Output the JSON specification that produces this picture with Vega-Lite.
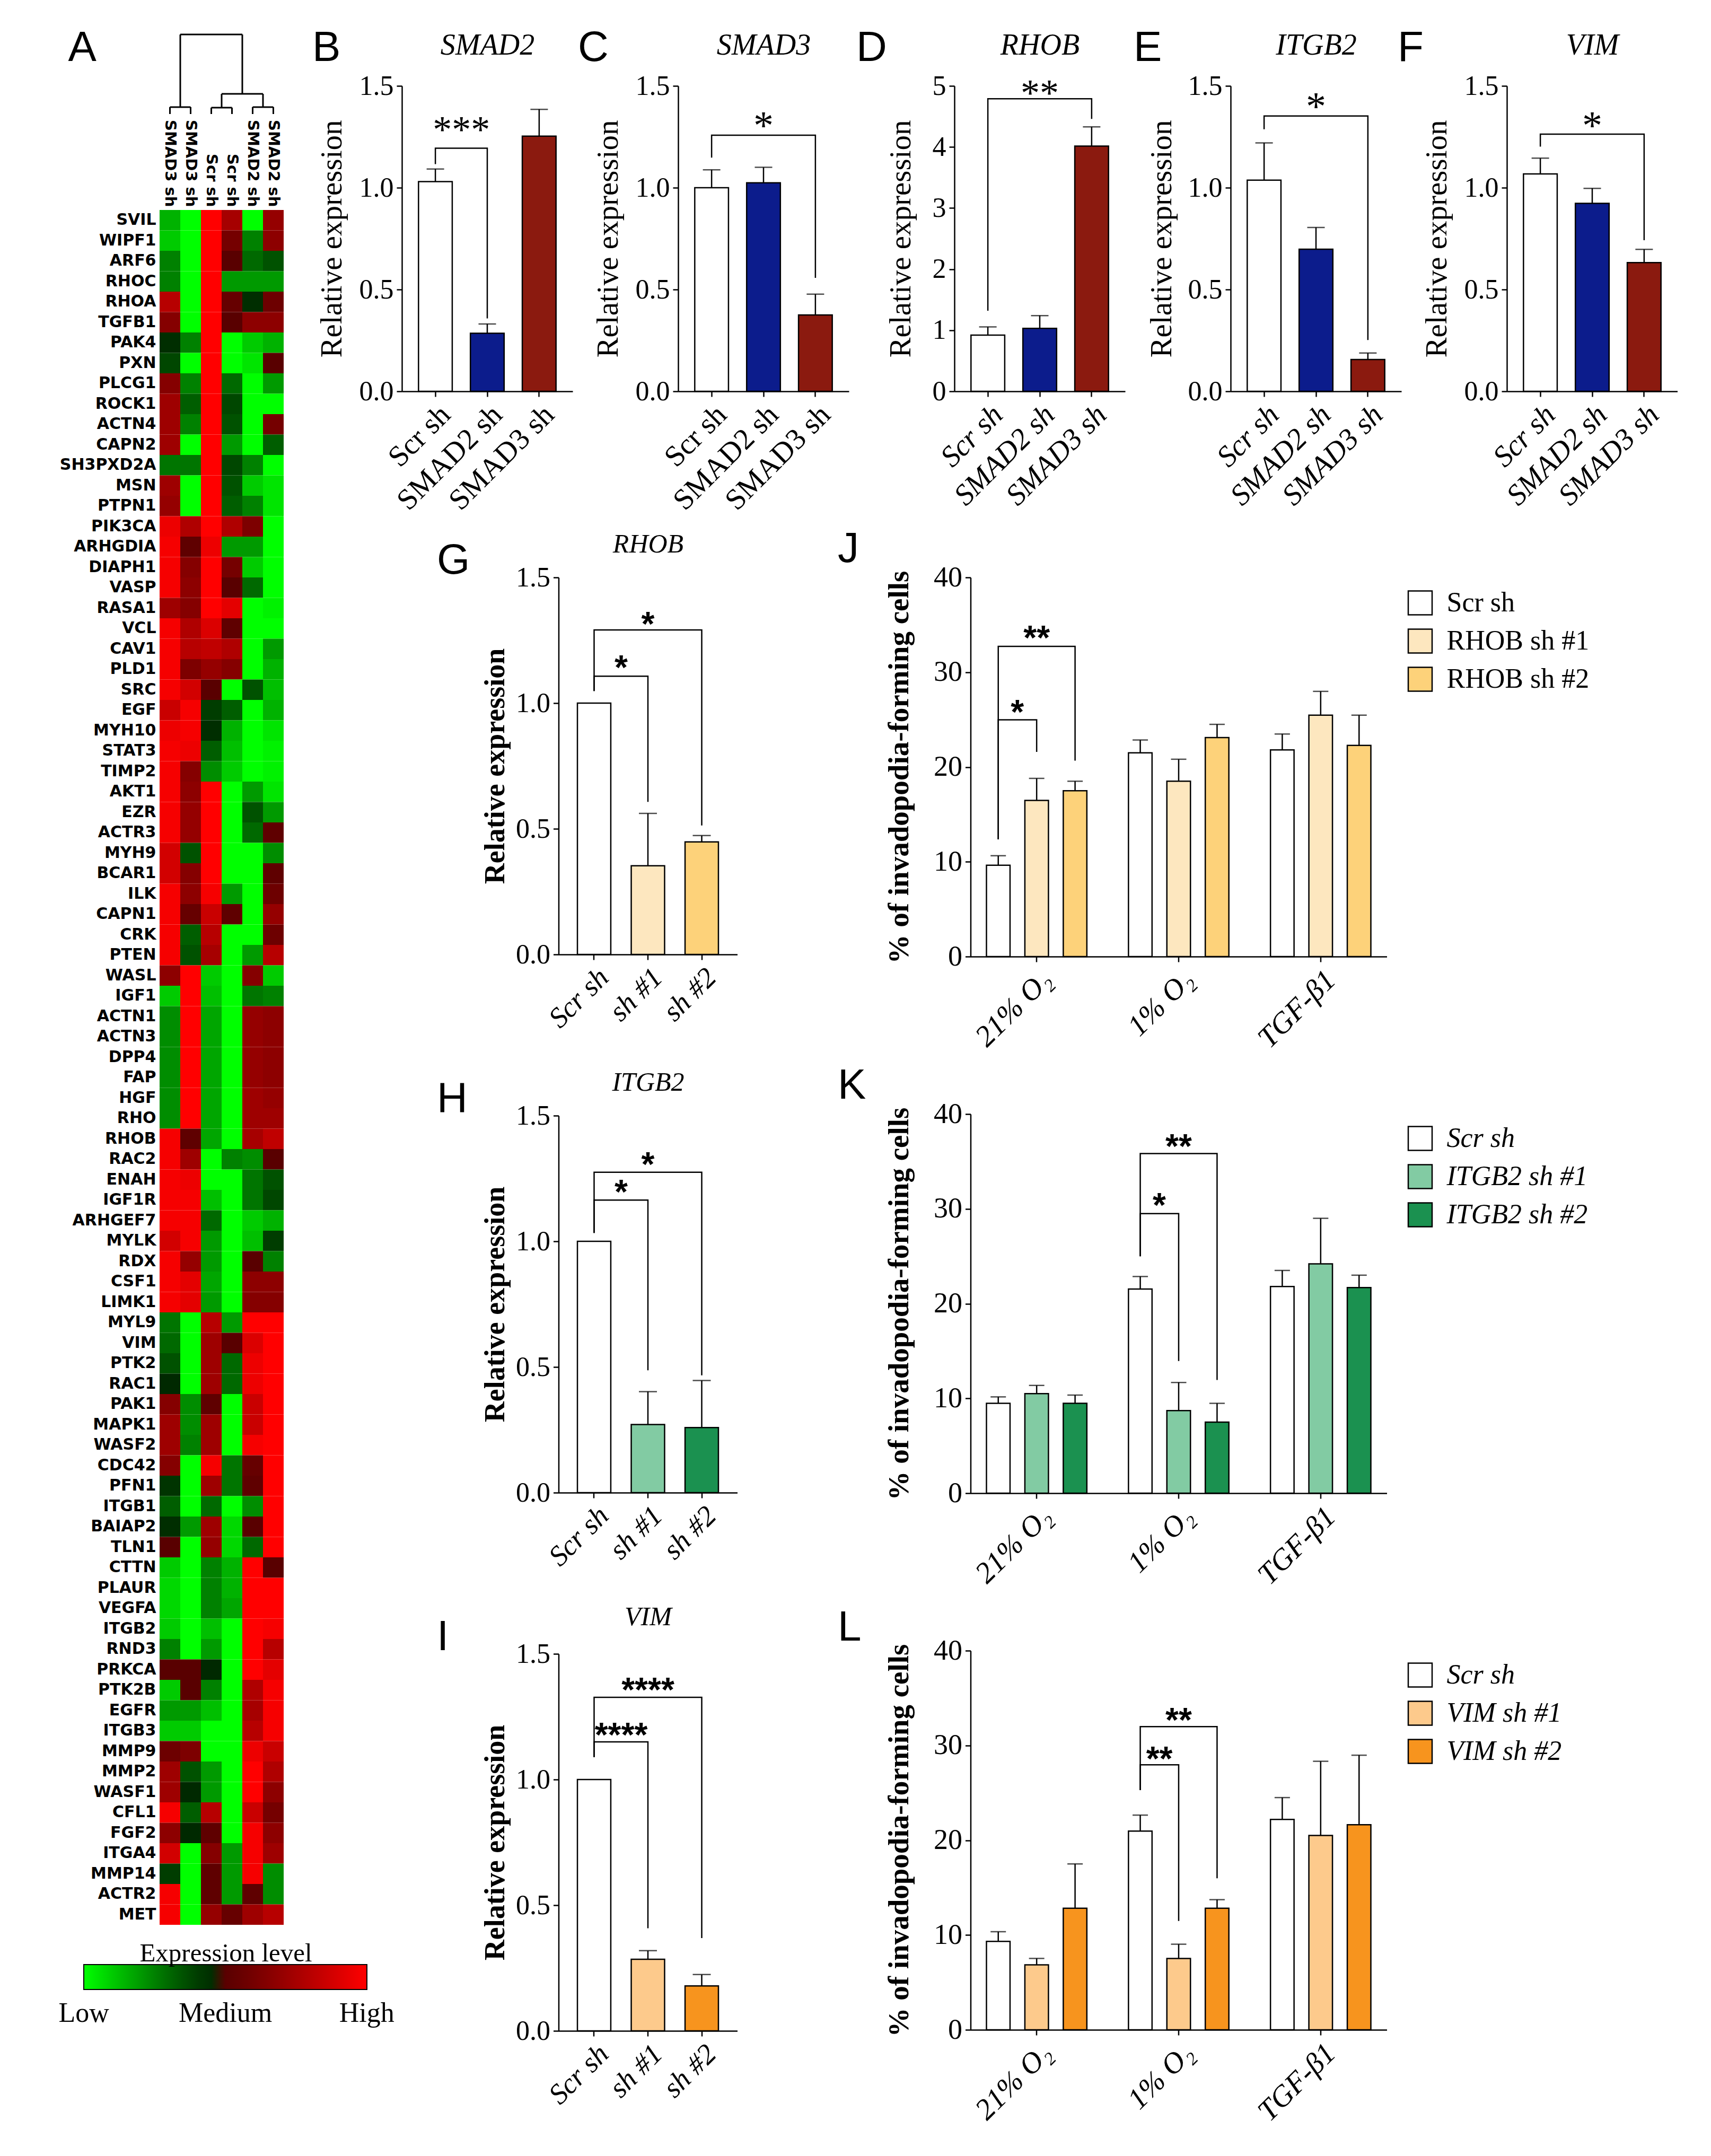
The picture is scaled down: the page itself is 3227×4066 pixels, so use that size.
{
"$schema": "https://vega.github.io/schema/vega-lite/v6.json",
"background": "white",
"padding": {"left": 112, "top": 50, "right": 0, "bottom": 0},
"config": {
  "view": {"stroke": null},
  "axis": {"labelFont": "Liberation Serif", "titleFont": "Liberation Serif", "labelColor": "#000", "titleColor": "#000", "domainColor": "#000", "tickColor": "#000", "domainWidth": 2.5, "tickWidth": 2.5, "tickSize": 10, "labelPadding": 6, "grid": false, "labelLimit": 1000, "titleLimit": 3000, "labelFontSize": 52, "titleFontSize": 56, "titleFontWeight": "normal"},
  "legend": {"labelLimit": 1000, "titleLimit": 2000}
},
"datasets": {
"dendro": [
 {"l":0.5,"r":1.5,"h":0.087,"lh":0,"rh":0},
 {"l":2.5,"r":3.5,"h":0.08,"lh":0,"rh":0},
 {"l":4.5,"r":5.5,"h":0.087,"lh":0,"rh":0},
 {"l":3,"r":5,"h":0.253,"lh":0.08,"rh":0.087},
 {"l":1,"r":4,"h":1,"lh":0.087,"rh":0.253}
],
"bars": [
 {"p":"B","c":"Scr sh","m":1.03,"h":1.092},{"p":"B","c":"SMAD2 sh","m":0.285,"h":0.331},{"p":"B","c":"SMAD3 sh","m":1.253,"h":1.385},
 {"p":"C","c":"Scr sh","m":1.0,"h":1.088},{"p":"C","c":"SMAD2 sh","m":1.024,"h":1.1},{"p":"C","c":"SMAD3 sh","m":0.375,"h":0.477},
 {"p":"D","c":"Scr sh","m":0.92,"h":1.055},{"p":"D","c":"SMAD2 sh","m":1.03,"h":1.24},{"p":"D","c":"SMAD3 sh","m":4.015,"h":4.33},
 {"p":"E","c":"Scr sh","m":1.037,"h":1.22},{"p":"E","c":"SMAD2 sh","m":0.698,"h":0.805},{"p":"E","c":"SMAD3 sh","m":0.156,"h":0.188},
 {"p":"F","c":"Scr sh","m":1.068,"h":1.145},{"p":"F","c":"SMAD2 sh","m":0.923,"h":0.997},{"p":"F","c":"SMAD3 sh","m":0.632,"h":0.697},
 {"p":"G","c":"Scr sh","m":1.0,"h":null},{"p":"G","c":"sh #1","m":0.353,"h":0.561},{"p":"G","c":"sh #2","m":0.448,"h":0.473},
 {"p":"H","c":"Scr sh","m":1.0,"h":null},{"p":"H","c":"sh #1","m":0.271,"h":0.402},{"p":"H","c":"sh #2","m":0.259,"h":0.446},
 {"p":"I","c":"Scr sh","m":1.0,"h":null},{"p":"I","c":"sh #1","m":0.285,"h":0.319},{"p":"I","c":"sh #2","m":0.179,"h":0.224},
 {"p":"J","g":"21% O₂","c":"Scr sh","m":9.63,"h":10.64},{"p":"J","g":"21% O₂","c":"RHOB sh #1","m":16.48,"h":18.8},{"p":"J","g":"21% O₂","c":"RHOB sh #2","m":17.49,"h":18.5},
 {"p":"J","g":"1% O₂","c":"Scr sh","m":21.5,"h":22.85},{"p":"J","g":"1% O₂","c":"RHOB sh #1","m":18.5,"h":20.82},{"p":"J","g":"1% O₂","c":"RHOB sh #2","m":23.1,"h":24.5},
 {"p":"J","g":"TGF-β1","c":"Scr sh","m":21.8,"h":23.48},{"p":"J","g":"TGF-β1","c":"RHOB sh #1","m":25.47,"h":27.98},{"p":"J","g":"TGF-β1","c":"RHOB sh #2","m":22.28,"h":25.47},
 {"p":"K","g":"21% O₂","c":"Scr sh","m":9.48,"h":10.16},{"p":"K","g":"21% O₂","c":"ITGB2 sh #1","m":10.5,"h":11.37},{"p":"K","g":"21% O₂","c":"ITGB2 sh #2","m":9.48,"h":10.35},
 {"p":"K","g":"1% O₂","c":"Scr sh","m":21.54,"h":22.86},{"p":"K","g":"1% O₂","c":"ITGB2 sh #1","m":8.72,"h":11.68},{"p":"K","g":"1% O₂","c":"ITGB2 sh #2","m":7.5,"h":9.48},
 {"p":"K","g":"TGF-β1","c":"Scr sh","m":21.8,"h":23.5},{"p":"K","g":"TGF-β1","c":"ITGB2 sh #1","m":24.19,"h":29.0},{"p":"K","g":"TGF-β1","c":"ITGB2 sh #2","m":21.69,"h":23.0},
 {"p":"L","g":"21% O₂","c":"Scr sh","m":9.33,"h":10.35},{"p":"L","g":"21% O₂","c":"VIM sh #1","m":6.85,"h":7.53},{"p":"L","g":"21% O₂","c":"VIM sh #2","m":12.83,"h":17.5},
 {"p":"L","g":"1% O₂","c":"Scr sh","m":20.96,"h":22.65},{"p":"L","g":"1% O₂","c":"VIM sh #1","m":7.53,"h":9.03},{"p":"L","g":"1% O₂","c":"VIM sh #2","m":12.83,"h":13.73},
 {"p":"L","g":"TGF-β1","c":"Scr sh","m":22.2,"h":24.5},{"p":"L","g":"TGF-β1","c":"VIM sh #1","m":20.5,"h":28.33},{"p":"L","g":"TGF-β1","c":"VIM sh #2","m":21.64,"h":28.97}
],
"brk": [
 {"p":"B","b":1,"k":0,"c":"Scr sh","y":1.116},{"p":"B","b":1,"k":1,"c":"Scr sh","y":1.194},{"p":"B","b":1,"k":2,"c":"SMAD2 sh","y":1.194},{"p":"B","b":1,"k":3,"c":"SMAD2 sh","y":0.358},
 {"p":"C","b":1,"k":0,"c":"Scr sh","y":1.148},{"p":"C","b":1,"k":1,"c":"Scr sh","y":1.258},{"p":"C","b":1,"k":2,"c":"SMAD3 sh","y":1.258},{"p":"C","b":1,"k":3,"c":"SMAD3 sh","y":0.557},
 {"p":"D","b":1,"k":0,"c":"Scr sh","y":1.32},{"p":"D","b":1,"k":1,"c":"Scr sh","y":4.79},{"p":"D","b":1,"k":2,"c":"SMAD3 sh","y":4.79},{"p":"D","b":1,"k":3,"c":"SMAD3 sh","y":4.46},
 {"p":"E","b":1,"k":0,"c":"Scr sh","y":1.287},{"p":"E","b":1,"k":1,"c":"Scr sh","y":1.352},{"p":"E","b":1,"k":2,"c":"SMAD3 sh","y":1.352},{"p":"E","b":1,"k":3,"c":"SMAD3 sh","y":0.252},
 {"p":"F","b":1,"k":0,"c":"Scr sh","y":1.202},{"p":"F","b":1,"k":1,"c":"Scr sh","y":1.263},{"p":"F","b":1,"k":2,"c":"SMAD3 sh","y":1.263},{"p":"F","b":1,"k":3,"c":"SMAD3 sh","y":0.742},
 {"p":"G","b":1,"k":0,"c":"Scr sh","y":1.048},{"p":"G","b":1,"k":1,"c":"Scr sh","y":1.107},{"p":"G","b":1,"k":2,"c":"sh #1","y":1.107},{"p":"G","b":1,"k":3,"c":"sh #1","y":0.607},
 {"p":"G","b":2,"k":0,"c":"Scr sh","y":1.048},{"p":"G","b":2,"k":1,"c":"Scr sh","y":1.291},{"p":"G","b":2,"k":2,"c":"sh #2","y":1.291},{"p":"G","b":2,"k":3,"c":"sh #2","y":0.513},
 {"p":"H","b":1,"k":0,"c":"Scr sh","y":1.033},{"p":"H","b":1,"k":1,"c":"Scr sh","y":1.164},{"p":"H","b":1,"k":2,"c":"sh #1","y":1.164},{"p":"H","b":1,"k":3,"c":"sh #1","y":0.487},
 {"p":"H","b":2,"k":0,"c":"Scr sh","y":1.033},{"p":"H","b":2,"k":1,"c":"Scr sh","y":1.275},{"p":"H","b":2,"k":2,"c":"sh #2","y":1.275},{"p":"H","b":2,"k":3,"c":"sh #2","y":0.467},
 {"p":"I","b":1,"k":0,"c":"Scr sh","y":1.089},{"p":"I","b":1,"k":1,"c":"Scr sh","y":1.15},{"p":"I","b":1,"k":2,"c":"sh #1","y":1.15},{"p":"I","b":1,"k":3,"c":"sh #1","y":0.408},
 {"p":"I","b":2,"k":0,"c":"Scr sh","y":1.089},{"p":"I","b":2,"k":1,"c":"Scr sh","y":1.327},{"p":"I","b":2,"k":2,"c":"sh #2","y":1.327},{"p":"I","b":2,"k":3,"c":"sh #2","y":0.369},
 {"p":"J","b":1,"k":0,"g":"21% O₂","c":"Scr sh","y":12.36},{"p":"J","b":1,"k":1,"g":"21% O₂","c":"Scr sh","y":24.98},{"p":"J","b":1,"k":2,"g":"21% O₂","c":"RHOB sh #1","y":24.98},{"p":"J","b":1,"k":3,"g":"21% O₂","c":"RHOB sh #1","y":21.6},
 {"p":"J","b":2,"k":0,"g":"21% O₂","c":"Scr sh","y":12.36},{"p":"J","b":2,"k":1,"g":"21% O₂","c":"Scr sh","y":32.73},{"p":"J","b":2,"k":2,"g":"21% O₂","c":"RHOB sh #2","y":32.73},{"p":"J","b":2,"k":3,"g":"21% O₂","c":"RHOB sh #2","y":20.67},
 {"p":"K","b":1,"k":0,"g":"1% O₂","c":"Scr sh","y":25.0},{"p":"K","b":1,"k":1,"g":"1% O₂","c":"Scr sh","y":29.5},{"p":"K","b":1,"k":2,"g":"1% O₂","c":"ITGB2 sh #1","y":29.5},{"p":"K","b":1,"k":3,"g":"1% O₂","c":"ITGB2 sh #1","y":13.95},
 {"p":"K","b":2,"k":0,"g":"1% O₂","c":"Scr sh","y":25.0},{"p":"K","b":2,"k":1,"g":"1% O₂","c":"Scr sh","y":35.83},{"p":"K","b":2,"k":2,"g":"1% O₂","c":"ITGB2 sh #2","y":35.83},{"p":"K","b":2,"k":3,"g":"1% O₂","c":"ITGB2 sh #2","y":11.94},
 {"p":"L","b":1,"k":0,"g":"1% O₂","c":"Scr sh","y":25.29},{"p":"L","b":1,"k":1,"g":"1% O₂","c":"Scr sh","y":27.96},{"p":"L","b":1,"k":2,"g":"1% O₂","c":"VIM sh #1","y":27.96},{"p":"L","b":1,"k":3,"g":"1% O₂","c":"VIM sh #1","y":11.48},
 {"p":"L","b":2,"k":0,"g":"1% O₂","c":"Scr sh","y":25.29},{"p":"L","b":2,"k":1,"g":"1% O₂","c":"Scr sh","y":31.98},{"p":"L","b":2,"k":2,"g":"1% O₂","c":"VIM sh #2","y":31.98},{"p":"L","b":2,"k":3,"g":"1% O₂","c":"VIM sh #2","y":15.99}
],
"stars": [
 {"p":"B","c":"Scr sh","y":1.32,"t":"***","half":1},
 {"p":"C","c":"SMAD2 sh","y":1.34,"t":"*"},
 {"p":"D","c":"SMAD2 sh","y":5.0,"t":"**"},
 {"p":"E","c":"SMAD2 sh","y":1.435,"t":"*"},
 {"p":"F","c":"SMAD2 sh","y":1.34,"t":"*"},
 {"p":"G","c":"Scr sh","y":1.175,"t":"*","half":1},{"p":"G","c":"sh #1","y":1.348,"t":"*"},
 {"p":"H","c":"Scr sh","y":1.23,"t":"*","half":1},{"p":"H","c":"sh #1","y":1.34,"t":"*"},
 {"p":"I","c":"Scr sh","y":1.21,"t":"****","half":1},{"p":"I","c":"sh #1","y":1.39,"t":"****"},
 {"p":"J","g":"21% O₂","c":"Scr sh","y":26.7,"t":"*","half":1},{"p":"J","g":"21% O₂","c":"RHOB sh #1","y":34.5,"t":"**"},
 {"p":"K","g":"1% O₂","c":"Scr sh","y":31.3,"t":"*","half":1},{"p":"K","g":"1% O₂","c":"ITGB2 sh #1","y":37.5,"t":"**"},
 {"p":"L","g":"1% O₂","c":"Scr sh","y":29.5,"t":"**","half":1},{"p":"L","g":"1% O₂","c":"VIM sh #1","y":33.56,"t":"**"}
],
"heat": [
{"g":"SVIL","c":1,"v":-0.7},{"g":"SVIL","c":2,"v":-1},{"g":"SVIL","c":3,"v":1},{"g":"SVIL","c":4,"v":0.5},{"g":"SVIL","c":5,"v":-1},{"g":"SVIL","c":6,"v":0.4},
{"g":"WIPF1","c":1,"v":-0.8},{"g":"WIPF1","c":2,"v":-1},{"g":"WIPF1","c":3,"v":1},{"g":"WIPF1","c":4,"v":0.2},{"g":"WIPF1","c":5,"v":-0.5},{"g":"WIPF1","c":6,"v":0.35},
{"g":"ARF6","c":1,"v":-0.5},{"g":"ARF6","c":2,"v":-1},{"g":"ARF6","c":3,"v":1},{"g":"ARF6","c":4,"v":0},{"g":"ARF6","c":5,"v":-0.4},{"g":"ARF6","c":6,"v":-0.3},
{"g":"RHOC","c":1,"v":-0.5},{"g":"RHOC","c":2,"v":-1},{"g":"RHOC","c":3,"v":1},{"g":"RHOC","c":4,"v":-0.6},{"g":"RHOC","c":5,"v":-0.6},{"g":"RHOC","c":6,"v":-0.6},
{"g":"RHOA","c":1,"v":0.6},{"g":"RHOA","c":2,"v":-1},{"g":"RHOA","c":3,"v":1},{"g":"RHOA","c":4,"v":0.1},{"g":"RHOA","c":5,"v":-0.1},{"g":"RHOA","c":6,"v":0.15},
{"g":"TGFB1","c":1,"v":0.3},{"g":"TGFB1","c":2,"v":-1},{"g":"TGFB1","c":3,"v":1},{"g":"TGFB1","c":4,"v":0},{"g":"TGFB1","c":5,"v":0.35},{"g":"TGFB1","c":6,"v":0.35},
{"g":"PAK4","c":1,"v":-0.1},{"g":"PAK4","c":2,"v":-0.5},{"g":"PAK4","c":3,"v":1},{"g":"PAK4","c":4,"v":-1},{"g":"PAK4","c":5,"v":-0.8},{"g":"PAK4","c":6,"v":-0.7},
{"g":"PXN","c":1,"v":-0.25},{"g":"PXN","c":2,"v":-1},{"g":"PXN","c":3,"v":1},{"g":"PXN","c":4,"v":-1},{"g":"PXN","c":5,"v":-0.9},{"g":"PXN","c":6,"v":0},
{"g":"PLCG1","c":1,"v":0.3},{"g":"PLCG1","c":2,"v":-0.5},{"g":"PLCG1","c":3,"v":1},{"g":"PLCG1","c":4,"v":-0.4},{"g":"PLCG1","c":5,"v":-1},{"g":"PLCG1","c":6,"v":-0.6},
{"g":"ROCK1","c":1,"v":0.45},{"g":"ROCK1","c":2,"v":-0.35},{"g":"ROCK1","c":3,"v":1},{"g":"ROCK1","c":4,"v":-0.25},{"g":"ROCK1","c":5,"v":-1},{"g":"ROCK1","c":6,"v":-1},
{"g":"ACTN4","c":1,"v":0.45},{"g":"ACTN4","c":2,"v":-0.5},{"g":"ACTN4","c":3,"v":1},{"g":"ACTN4","c":4,"v":-0.3},{"g":"ACTN4","c":5,"v":-1},{"g":"ACTN4","c":6,"v":0.2},
{"g":"CAPN2","c":1,"v":0.45},{"g":"CAPN2","c":2,"v":-1},{"g":"CAPN2","c":3,"v":1},{"g":"CAPN2","c":4,"v":-0.6},{"g":"CAPN2","c":5,"v":-1},{"g":"CAPN2","c":6,"v":-0.35},
{"g":"SH3PXD2A","c":1,"v":-0.45},{"g":"SH3PXD2A","c":2,"v":-0.45},{"g":"SH3PXD2A","c":3,"v":1},{"g":"SH3PXD2A","c":4,"v":-0.25},{"g":"SH3PXD2A","c":5,"v":-0.5},{"g":"SH3PXD2A","c":6,"v":-1},
{"g":"MSN","c":1,"v":0.45},{"g":"MSN","c":2,"v":-1},{"g":"MSN","c":3,"v":1},{"g":"MSN","c":4,"v":-0.3},{"g":"MSN","c":5,"v":-0.8},{"g":"MSN","c":6,"v":-0.9},
{"g":"PTPN1","c":1,"v":0.4},{"g":"PTPN1","c":2,"v":-1},{"g":"PTPN1","c":3,"v":1},{"g":"PTPN1","c":4,"v":-0.35},{"g":"PTPN1","c":5,"v":-0.5},{"g":"PTPN1","c":6,"v":-0.9},
{"g":"PIK3CA","c":1,"v":0.9},{"g":"PIK3CA","c":2,"v":0.55},{"g":"PIK3CA","c":3,"v":1},{"g":"PIK3CA","c":4,"v":0.55},{"g":"PIK3CA","c":5,"v":0.25},{"g":"PIK3CA","c":6,"v":-1},
{"g":"ARHGDIA","c":1,"v":0.95},{"g":"ARHGDIA","c":2,"v":0.05},{"g":"ARHGDIA","c":3,"v":0.9},{"g":"ARHGDIA","c":4,"v":-0.6},{"g":"ARHGDIA","c":5,"v":-0.6},{"g":"ARHGDIA","c":6,"v":-1},
{"g":"DIAPH1","c":1,"v":0.95},{"g":"DIAPH1","c":2,"v":0.3},{"g":"DIAPH1","c":3,"v":1},{"g":"DIAPH1","c":4,"v":0.2},{"g":"DIAPH1","c":5,"v":-0.8},{"g":"DIAPH1","c":6,"v":-1},
{"g":"VASP","c":1,"v":0.95},{"g":"VASP","c":2,"v":0.35},{"g":"VASP","c":3,"v":1},{"g":"VASP","c":4,"v":0},{"g":"VASP","c":5,"v":-0.4},{"g":"VASP","c":6,"v":-1},
{"g":"RASA1","c":1,"v":0.45},{"g":"RASA1","c":2,"v":0.3},{"g":"RASA1","c":3,"v":1},{"g":"RASA1","c":4,"v":0.85},{"g":"RASA1","c":5,"v":-1},{"g":"RASA1","c":6,"v":-0.95},
{"g":"VCL","c":1,"v":0.95},{"g":"VCL","c":2,"v":0.55},{"g":"VCL","c":3,"v":0.8},{"g":"VCL","c":4,"v":0.05},{"g":"VCL","c":5,"v":-1},{"g":"VCL","c":6,"v":-1},
{"g":"CAV1","c":1,"v":0.95},{"g":"CAV1","c":2,"v":0.6},{"g":"CAV1","c":3,"v":0.65},{"g":"CAV1","c":4,"v":0.55},{"g":"CAV1","c":5,"v":-1},{"g":"CAV1","c":6,"v":-0.6},
{"g":"PLD1","c":1,"v":0.95},{"g":"PLD1","c":2,"v":0.25},{"g":"PLD1","c":3,"v":0.4},{"g":"PLD1","c":4,"v":0.3},{"g":"PLD1","c":5,"v":-1},{"g":"PLD1","c":6,"v":-0.7},
{"g":"SRC","c":1,"v":0.95},{"g":"SRC","c":2,"v":0.75},{"g":"SRC","c":3,"v":0},{"g":"SRC","c":4,"v":-1},{"g":"SRC","c":5,"v":-0.3},{"g":"SRC","c":6,"v":-0.75},
{"g":"EGF","c":1,"v":0.7},{"g":"EGF","c":2,"v":0.95},{"g":"EGF","c":3,"v":-0.2},{"g":"EGF","c":4,"v":-0.35},{"g":"EGF","c":5,"v":-1},{"g":"EGF","c":6,"v":-0.7},
{"g":"MYH10","c":1,"v":0.9},{"g":"MYH10","c":2,"v":0.95},{"g":"MYH10","c":3,"v":-0.1},{"g":"MYH10","c":4,"v":-0.7},{"g":"MYH10","c":5,"v":-1},{"g":"MYH10","c":6,"v":-0.9},
{"g":"STAT3","c":1,"v":0.95},{"g":"STAT3","c":2,"v":0.9},{"g":"STAT3","c":3,"v":-0.35},{"g":"STAT3","c":4,"v":-0.75},{"g":"STAT3","c":5,"v":-1},{"g":"STAT3","c":6,"v":-0.95},
{"g":"TIMP2","c":1,"v":0.95},{"g":"TIMP2","c":2,"v":0.3},{"g":"TIMP2","c":3,"v":-0.55},{"g":"TIMP2","c":4,"v":-0.8},{"g":"TIMP2","c":5,"v":-1},{"g":"TIMP2","c":6,"v":-0.95},
{"g":"AKT1","c":1,"v":0.95},{"g":"AKT1","c":2,"v":0.35},{"g":"AKT1","c":3,"v":1},{"g":"AKT1","c":4,"v":-1},{"g":"AKT1","c":5,"v":-0.6},{"g":"AKT1","c":6,"v":-0.9},
{"g":"EZR","c":1,"v":0.95},{"g":"EZR","c":2,"v":0.4},{"g":"EZR","c":3,"v":1},{"g":"EZR","c":4,"v":-1},{"g":"EZR","c":5,"v":-0.3},{"g":"EZR","c":6,"v":-0.6},
{"g":"ACTR3","c":1,"v":0.95},{"g":"ACTR3","c":2,"v":0.4},{"g":"ACTR3","c":3,"v":1},{"g":"ACTR3","c":4,"v":-1},{"g":"ACTR3","c":5,"v":-0.4},{"g":"ACTR3","c":6,"v":0.05},
{"g":"MYH9","c":1,"v":0.75},{"g":"MYH9","c":2,"v":-0.3},{"g":"MYH9","c":3,"v":1},{"g":"MYH9","c":4,"v":-1},{"g":"MYH9","c":5,"v":-1},{"g":"MYH9","c":6,"v":-0.55},
{"g":"BCAR1","c":1,"v":0.75},{"g":"BCAR1","c":2,"v":0.3},{"g":"BCAR1","c":3,"v":1},{"g":"BCAR1","c":4,"v":-1},{"g":"BCAR1","c":5,"v":-1},{"g":"BCAR1","c":6,"v":0.05},
{"g":"ILK","c":1,"v":0.95},{"g":"ILK","c":2,"v":0.35},{"g":"ILK","c":3,"v":0.95},{"g":"ILK","c":4,"v":-0.6},{"g":"ILK","c":5,"v":-1},{"g":"ILK","c":6,"v":0.15},
{"g":"CAPN1","c":1,"v":0.95},{"g":"CAPN1","c":2,"v":0.1},{"g":"CAPN1","c":3,"v":0.7},{"g":"CAPN1","c":4,"v":0.05},{"g":"CAPN1","c":5,"v":-1},{"g":"CAPN1","c":6,"v":0.4},
{"g":"CRK","c":1,"v":0.95},{"g":"CRK","c":2,"v":-0.35},{"g":"CRK","c":3,"v":0.6},{"g":"CRK","c":4,"v":-1},{"g":"CRK","c":5,"v":-1},{"g":"CRK","c":6,"v":0.15},
{"g":"PTEN","c":1,"v":0.95},{"g":"PTEN","c":2,"v":-0.3},{"g":"PTEN","c":3,"v":0.5},{"g":"PTEN","c":4,"v":-1},{"g":"PTEN","c":5,"v":-0.6},{"g":"PTEN","c":6,"v":0.6},
{"g":"WASL","c":1,"v":0.35},{"g":"WASL","c":2,"v":1},{"g":"WASL","c":3,"v":-0.8},{"g":"WASL","c":4,"v":-1},{"g":"WASL","c":5,"v":0.3},{"g":"WASL","c":6,"v":-0.8},
{"g":"IGF1","c":1,"v":-0.8},{"g":"IGF1","c":2,"v":1},{"g":"IGF1","c":3,"v":-0.75},{"g":"IGF1","c":4,"v":-1},{"g":"IGF1","c":5,"v":-0.45},{"g":"IGF1","c":6,"v":-0.5},
{"g":"ACTN1","c":1,"v":-0.55},{"g":"ACTN1","c":2,"v":1},{"g":"ACTN1","c":3,"v":-0.65},{"g":"ACTN1","c":4,"v":-1},{"g":"ACTN1","c":5,"v":0.4},{"g":"ACTN1","c":6,"v":0.35},
{"g":"ACTN3","c":1,"v":-0.55},{"g":"ACTN3","c":2,"v":1},{"g":"ACTN3","c":3,"v":-0.65},{"g":"ACTN3","c":4,"v":-1},{"g":"ACTN3","c":5,"v":0.4},{"g":"ACTN3","c":6,"v":0.35},
{"g":"DPP4","c":1,"v":-0.55},{"g":"DPP4","c":2,"v":1},{"g":"DPP4","c":3,"v":-0.65},{"g":"DPP4","c":4,"v":-1},{"g":"DPP4","c":5,"v":0.4},{"g":"DPP4","c":6,"v":0.35},
{"g":"FAP","c":1,"v":-0.55},{"g":"FAP","c":2,"v":1},{"g":"FAP","c":3,"v":-0.65},{"g":"FAP","c":4,"v":-1},{"g":"FAP","c":5,"v":0.4},{"g":"FAP","c":6,"v":0.35},
{"g":"HGF","c":1,"v":-0.55},{"g":"HGF","c":2,"v":1},{"g":"HGF","c":3,"v":-0.65},{"g":"HGF","c":4,"v":-1},{"g":"HGF","c":5,"v":0.45},{"g":"HGF","c":6,"v":0.4},
{"g":"RHO","c":1,"v":-0.55},{"g":"RHO","c":2,"v":1},{"g":"RHO","c":3,"v":-0.65},{"g":"RHO","c":4,"v":-1},{"g":"RHO","c":5,"v":0.45},{"g":"RHO","c":6,"v":0.45},
{"g":"RHOB","c":1,"v":0.95},{"g":"RHOB","c":2,"v":0.05},{"g":"RHOB","c":3,"v":-0.65},{"g":"RHOB","c":4,"v":-1},{"g":"RHOB","c":5,"v":0.5},{"g":"RHOB","c":6,"v":0.65},
{"g":"RAC2","c":1,"v":0.95},{"g":"RAC2","c":2,"v":0.45},{"g":"RAC2","c":3,"v":-1},{"g":"RAC2","c":4,"v":-0.5},{"g":"RAC2","c":5,"v":-0.55},{"g":"RAC2","c":6,"v":0},
{"g":"ENAH","c":1,"v":0.95},{"g":"ENAH","c":2,"v":0.9},{"g":"ENAH","c":3,"v":-1},{"g":"ENAH","c":4,"v":-1},{"g":"ENAH","c":5,"v":-0.45},{"g":"ENAH","c":6,"v":-0.3},
{"g":"IGF1R","c":1,"v":0.95},{"g":"IGF1R","c":2,"v":0.95},{"g":"IGF1R","c":3,"v":-0.75},{"g":"IGF1R","c":4,"v":-1},{"g":"IGF1R","c":5,"v":-0.45},{"g":"IGF1R","c":6,"v":-0.25},
{"g":"ARHGEF7","c":1,"v":0.95},{"g":"ARHGEF7","c":2,"v":0.95},{"g":"ARHGEF7","c":3,"v":-0.4},{"g":"ARHGEF7","c":4,"v":-1},{"g":"ARHGEF7","c":5,"v":-0.8},{"g":"ARHGEF7","c":6,"v":-0.7},
{"g":"MYLK","c":1,"v":0.75},{"g":"MYLK","c":2,"v":0.95},{"g":"MYLK","c":3,"v":-0.6},{"g":"MYLK","c":4,"v":-1},{"g":"MYLK","c":5,"v":-0.75},{"g":"MYLK","c":6,"v":-0.2},
{"g":"RDX","c":1,"v":0.95},{"g":"RDX","c":2,"v":0.4},{"g":"RDX","c":3,"v":-0.6},{"g":"RDX","c":4,"v":-1},{"g":"RDX","c":5,"v":0},{"g":"RDX","c":6,"v":-0.5},
{"g":"CSF1","c":1,"v":0.95},{"g":"CSF1","c":2,"v":0.85},{"g":"CSF1","c":3,"v":-0.65},{"g":"CSF1","c":4,"v":-1},{"g":"CSF1","c":5,"v":0.35},{"g":"CSF1","c":6,"v":0.35},
{"g":"LIMK1","c":1,"v":0.95},{"g":"LIMK1","c":2,"v":0.85},{"g":"LIMK1","c":3,"v":-0.6},{"g":"LIMK1","c":4,"v":-1},{"g":"LIMK1","c":5,"v":0.3},{"g":"LIMK1","c":6,"v":0.3},
{"g":"MYL9","c":1,"v":-0.45},{"g":"MYL9","c":2,"v":-1},{"g":"MYL9","c":3,"v":0.6},{"g":"MYL9","c":4,"v":-0.6},{"g":"MYL9","c":5,"v":1},{"g":"MYL9","c":6,"v":1},
{"g":"VIM","c":1,"v":-0.4},{"g":"VIM","c":2,"v":-1},{"g":"VIM","c":3,"v":0.45},{"g":"VIM","c":4,"v":0},{"g":"VIM","c":5,"v":0.8},{"g":"VIM","c":6,"v":1},
{"g":"PTK2","c":1,"v":-0.3},{"g":"PTK2","c":2,"v":-1},{"g":"PTK2","c":3,"v":0.45},{"g":"PTK2","c":4,"v":-0.4},{"g":"PTK2","c":5,"v":0.9},{"g":"PTK2","c":6,"v":1},
{"g":"RAC1","c":1,"v":-0.05},{"g":"RAC1","c":2,"v":-1},{"g":"RAC1","c":3,"v":0.45},{"g":"RAC1","c":4,"v":-0.4},{"g":"RAC1","c":5,"v":0.9},{"g":"RAC1","c":6,"v":1},
{"g":"PAK1","c":1,"v":0.3},{"g":"PAK1","c":2,"v":-0.55},{"g":"PAK1","c":3,"v":0.05},{"g":"PAK1","c":4,"v":-1},{"g":"PAK1","c":5,"v":0.7},{"g":"PAK1","c":6,"v":1},
{"g":"MAPK1","c":1,"v":0.45},{"g":"MAPK1","c":2,"v":-0.55},{"g":"MAPK1","c":3,"v":0.45},{"g":"MAPK1","c":4,"v":-1},{"g":"MAPK1","c":5,"v":0.7},{"g":"MAPK1","c":6,"v":1},
{"g":"WASF2","c":1,"v":0.45},{"g":"WASF2","c":2,"v":-0.5},{"g":"WASF2","c":3,"v":0.45},{"g":"WASF2","c":4,"v":-1},{"g":"WASF2","c":5,"v":0.95},{"g":"WASF2","c":6,"v":1},
{"g":"CDC42","c":1,"v":0.3},{"g":"CDC42","c":2,"v":-1},{"g":"CDC42","c":3,"v":0.95},{"g":"CDC42","c":4,"v":-0.45},{"g":"CDC42","c":5,"v":0.1},{"g":"CDC42","c":6,"v":1},
{"g":"PFN1","c":1,"v":-0.15},{"g":"PFN1","c":2,"v":-1},{"g":"PFN1","c":3,"v":0.45},{"g":"PFN1","c":4,"v":-0.45},{"g":"PFN1","c":5,"v":0.05},{"g":"PFN1","c":6,"v":1},
{"g":"ITGB1","c":1,"v":-0.35},{"g":"ITGB1","c":2,"v":-1},{"g":"ITGB1","c":3,"v":-0.4},{"g":"ITGB1","c":4,"v":-1},{"g":"ITGB1","c":5,"v":-0.55},{"g":"ITGB1","c":6,"v":1},
{"g":"BAIAP2","c":1,"v":-0.1},{"g":"BAIAP2","c":2,"v":-0.6},{"g":"BAIAP2","c":3,"v":0.45},{"g":"BAIAP2","c":4,"v":-0.85},{"g":"BAIAP2","c":5,"v":0},{"g":"BAIAP2","c":6,"v":1},
{"g":"TLN1","c":1,"v":0},{"g":"TLN1","c":2,"v":-1},{"g":"TLN1","c":3,"v":0.4},{"g":"TLN1","c":4,"v":-0.85},{"g":"TLN1","c":5,"v":-0.4},{"g":"TLN1","c":6,"v":1},
{"g":"CTTN","c":1,"v":-0.8},{"g":"CTTN","c":2,"v":-1},{"g":"CTTN","c":3,"v":-0.5},{"g":"CTTN","c":4,"v":-0.7},{"g":"CTTN","c":5,"v":1},{"g":"CTTN","c":6,"v":0},
{"g":"PLAUR","c":1,"v":-0.85},{"g":"PLAUR","c":2,"v":-1},{"g":"PLAUR","c":3,"v":-0.5},{"g":"PLAUR","c":4,"v":-0.7},{"g":"PLAUR","c":5,"v":1},{"g":"PLAUR","c":6,"v":1},
{"g":"VEGFA","c":1,"v":-0.85},{"g":"VEGFA","c":2,"v":-1},{"g":"VEGFA","c":3,"v":-0.5},{"g":"VEGFA","c":4,"v":-0.65},{"g":"VEGFA","c":5,"v":1},{"g":"VEGFA","c":6,"v":1},
{"g":"ITGB2","c":1,"v":-0.8},{"g":"ITGB2","c":2,"v":-1},{"g":"ITGB2","c":3,"v":-0.75},{"g":"ITGB2","c":4,"v":-1},{"g":"ITGB2","c":5,"v":1},{"g":"ITGB2","c":6,"v":0.95},
{"g":"RND3","c":1,"v":-0.5},{"g":"RND3","c":2,"v":-1},{"g":"RND3","c":3,"v":-0.6},{"g":"RND3","c":4,"v":-1},{"g":"RND3","c":5,"v":1},{"g":"RND3","c":6,"v":0.6},
{"g":"PRKCA","c":1,"v":0},{"g":"PRKCA","c":2,"v":0},{"g":"PRKCA","c":3,"v":-0.05},{"g":"PRKCA","c":4,"v":-1},{"g":"PRKCA","c":5,"v":1},{"g":"PRKCA","c":6,"v":0.85},
{"g":"PTK2B","c":1,"v":-0.8},{"g":"PTK2B","c":2,"v":0},{"g":"PTK2B","c":3,"v":-0.5},{"g":"PTK2B","c":4,"v":-1},{"g":"PTK2B","c":5,"v":0.55},{"g":"PTK2B","c":6,"v":0.95},
{"g":"EGFR","c":1,"v":-0.6},{"g":"EGFR","c":2,"v":-0.6},{"g":"EGFR","c":3,"v":-0.75},{"g":"EGFR","c":4,"v":-1},{"g":"EGFR","c":5,"v":0.5},{"g":"EGFR","c":6,"v":0.95},
{"g":"ITGB3","c":1,"v":-0.8},{"g":"ITGB3","c":2,"v":-0.8},{"g":"ITGB3","c":3,"v":-1},{"g":"ITGB3","c":4,"v":-1},{"g":"ITGB3","c":5,"v":0.6},{"g":"ITGB3","c":6,"v":0.95},
{"g":"MMP9","c":1,"v":0.15},{"g":"MMP9","c":2,"v":0.25},{"g":"MMP9","c":3,"v":-1},{"g":"MMP9","c":4,"v":-1},{"g":"MMP9","c":5,"v":0.9},{"g":"MMP9","c":6,"v":0.7},
{"g":"MMP2","c":1,"v":0.45},{"g":"MMP2","c":2,"v":-0.3},{"g":"MMP2","c":3,"v":-0.6},{"g":"MMP2","c":4,"v":-1},{"g":"MMP2","c":5,"v":1},{"g":"MMP2","c":6,"v":0.55},
{"g":"WASF1","c":1,"v":0.45},{"g":"WASF1","c":2,"v":-0.05},{"g":"WASF1","c":3,"v":-0.6},{"g":"WASF1","c":4,"v":-1},{"g":"WASF1","c":5,"v":1},{"g":"WASF1","c":6,"v":0.35},
{"g":"CFL1","c":1,"v":0.95},{"g":"CFL1","c":2,"v":-0.35},{"g":"CFL1","c":3,"v":0.6},{"g":"CFL1","c":4,"v":-1},{"g":"CFL1","c":5,"v":0.7},{"g":"CFL1","c":6,"v":0.2},
{"g":"FGF2","c":1,"v":0.35},{"g":"FGF2","c":2,"v":-0.05},{"g":"FGF2","c":3,"v":0.05},{"g":"FGF2","c":4,"v":-1},{"g":"FGF2","c":5,"v":0.95},{"g":"FGF2","c":6,"v":0.35},
{"g":"ITGA4","c":1,"v":0.75},{"g":"ITGA4","c":2,"v":-1},{"g":"ITGA4","c":3,"v":0.3},{"g":"ITGA4","c":4,"v":-0.6},{"g":"ITGA4","c":5,"v":0.95},{"g":"ITGA4","c":6,"v":0.45},
{"g":"MMP14","c":1,"v":-0.2},{"g":"MMP14","c":2,"v":-1},{"g":"MMP14","c":3,"v":0.05},{"g":"MMP14","c":4,"v":-0.6},{"g":"MMP14","c":5,"v":0.95},{"g":"MMP14","c":6,"v":-0.55},
{"g":"ACTR2","c":1,"v":0.95},{"g":"ACTR2","c":2,"v":-1},{"g":"ACTR2","c":3,"v":0.05},{"g":"ACTR2","c":4,"v":-0.6},{"g":"ACTR2","c":5,"v":0.05},{"g":"ACTR2","c":6,"v":-0.55},
{"g":"MET","c":1,"v":0.95},{"g":"MET","c":2,"v":-1},{"g":"MET","c":3,"v":0.4},{"g":"MET","c":4,"v":0.1},{"g":"MET","c":5,"v":0.45},{"g":"MET","c":6,"v":0.6}
]
},
"hconcat": [
 {"vconcat": [
   {"width": 234, "height": 53, "data": {"name": "dendro"},
    "layer": [
     {"mark": {"type": "rule", "color": "#000", "strokeWidth": 3},
      "encoding": {"x": {"field": "l", "type": "quantitative", "scale": {"domain": [0, 6], "nice": false, "zero": false}, "axis": null}, "x2": {"field": "r"},
       "y": {"field": "h", "type": "quantitative", "scale": {"domain": [0, 0.3533], "nice": false, "zero": false}, "axis": {"orient": "left", "title": "A", "labels": false, "ticks": false, "domain": false, "titleAngle": 0, "titleX": -173, "titleY": -48, "titleAlign": "left", "titleBaseline": "alphabetic", "titleFont": "Liberation Sans", "titleFontSize": 80}}}},
     {"mark": {"type": "rule", "color": "#000", "strokeWidth": 3},
      "encoding": {"x": {"field": "l", "type": "quantitative", "axis": null}, "y": {"field": "lh", "type": "quantitative", "axis": null}, "y2": {"field": "h"}}},
     {"mark": {"type": "rule", "color": "#000", "strokeWidth": 3},
      "encoding": {"x": {"field": "r", "type": "quantitative", "axis": null}, "y": {"field": "rh", "type": "quantitative", "axis": null}, "y2": {"field": "h"}}}
    ],
    "resolve": {"axis": {"x": "independent", "y": "independent"}}},
   {"width": 234, "height": 3234, "data": {"name": "heat"},
    "mark": {"type": "rect"},
    "encoding": {
     "x": {"field": "c", "type": "ordinal", "axis": {"orient": "top", "title": null, "labelAngle": 90, "labelAlign": "right", "labelBaseline": "middle", "labelExpr": "['','SMAD3 sh','SMAD3 sh','Scr sh','Scr sh','SMAD2 sh','SMAD2 sh'][datum.value]", "labelFont": "DejaVu Sans", "labelFontWeight": "bold", "labelFontSize": 29, "ticks": false, "domain": false, "labelPadding": 6}},
     "y": {"field": "g", "type": "nominal", "sort": null, "axis": {"title": null, "ticks": false, "domain": false, "labelFont": "DejaVu Sans", "labelFontWeight": "bold", "labelFontSize": 30, "labelPadding": 7}},
     "fill": {"field": "v", "type": "quantitative", "scale": {"domain": [-1, 0, 1], "range": ["#00ff00", "#000000", "#ff0000"]},
      "legend": {"type": "gradient", "orient": "none", "legendX": -143, "legendY": 3264, "direction": "horizontal", "title": "Expression level", "titleFont": "Liberation Serif", "titleFontSize": 49, "titleFontWeight": "normal", "titleColor": "#000", "titleAnchor": "middle", "titleAlign": "center", "titlePadding": -4, "gradientLength": 534, "gradientThickness": 47, "gradientStrokeColor": "#000", "gradientStrokeWidth": 2, "values": [-0.999, 0, 0.999], "labelExpr": "datum.value < -0.5 ? 'Low' : (datum.value > 0.5 ? 'High' : 'Medium')", "labelFont": "Liberation Serif", "labelFontSize": 52, "labelColor": "#000", "labelAlign": "center", "labelOffset": 20, "labelOverlap": false, "padding": 0}}
    }}
  ], "spacing": 181, "bounds": "flush", "resolve": {"scale": {"fill": "independent"}}},
 {"vconcat": [
   {"hconcat": [
     {"width": 322, "height": 576,
      "layer": [
       {"data": {"name": "bars"}, "transform": [{"filter": "datum.p=='B'"}], "mark": {"type": "bar", "stroke": "#000", "strokeWidth": 2.5},
        "encoding": {"x": {"field": "c", "type": "nominal", "scale": {"domain": ["Scr sh","SMAD2 sh","SMAD3 sh"], "paddingInner": 0.35, "paddingOuter": 0.32}, "axis": {"title": null, "labelAngle": -45, "labelFontSize": 56, "labelFontStyle": "normal"}},
         "y": {"field": "m", "type": "quantitative", "scale": {"domain": [0, 1.5], "nice": false}, "axis": {"title": "Relative expression", "values": [0, 0.5, 1, 1.5], "format": ".1f", "titleFontSize": 57, "titlePadding": 22}},
         "fill": {"field": "c", "type": "nominal", "scale": {"domain": ["Scr sh","SMAD2 sh","SMAD3 sh"], "range": ["#ffffff","#0c1c8c","#8b1a0f"]}, "legend": null}}},
       {"data": {"name": "bars"}, "transform": [{"filter": "datum.p=='B' && datum.h != null"}], "mark": {"type": "rule", "color": "#000", "strokeWidth": 2.5},
        "encoding": {"x": {"field": "c", "type": "nominal", "axis": null}, "y": {"field": "h", "type": "quantitative", "axis": null}, "y2": {"field": "m"}}},
       {"data": {"name": "bars"}, "transform": [{"filter": "datum.p=='B' && datum.h != null"}], "mark": {"type": "tick", "color": "#000", "thickness": 2.5, "size": 33, "orient": "horizontal"},
        "encoding": {"x": {"field": "c", "type": "nominal", "axis": null}, "y": {"field": "h", "type": "quantitative", "axis": null}}},
       {"data": {"name": "brk"}, "transform": [{"filter": "datum.p=='B'"}], "mark": {"type": "line", "color": "#000", "strokeWidth": 2.5},
        "encoding": {"x": {"field": "c", "type": "nominal", "axis": {"orient": "top", "title": "SMAD2", "labels": false, "ticks": false, "domain": false, "titleFontStyle": "italic", "titleFontSize": 56, "titleY": -60, "titleBaseline": "alphabetic"}},
         "y": {"field": "y", "type": "quantitative", "axis": {"orient": "left", "title": "B", "labels": false, "ticks": false, "domain": false, "titleAngle": 0, "titleX": -169.5, "titleY": -48, "titleAlign": "left", "titleBaseline": "alphabetic", "titleFont": "Liberation Sans", "titleFontSize": 80}},
         "detail": {"field": "b", "type": "nominal"}, "order": {"field": "k", "type": "quantitative"}}},
       {"data": {"name": "stars"}, "transform": [{"filter": "datum.p=='B' && !datum.half"}], "mark": {"type": "text", "font": "Liberation Serif", "fontSize": 72, "baseline": "alphabetic", "dy": 37, "color": "#000"},
        "encoding": {"x": {"field": "c", "type": "nominal", "axis": null}, "y": {"field": "y", "type": "quantitative", "axis": null}, "text": {"field": "t"}}},
       {"data": {"name": "stars"}, "transform": [{"filter": "datum.p=='B' && datum.half"}], "mark": {"type": "text", "font": "Liberation Serif", "fontSize": 72, "baseline": "alphabetic", "dy": 37, "dx": 49, "color": "#000"},
        "encoding": {"x": {"field": "c", "type": "nominal", "axis": null}, "y": {"field": "y", "type": "quantitative", "axis": null}, "text": {"field": "t"}}}
      ],
      "resolve": {"axis": {"x": "independent", "y": "independent"}}},
     {"width": 322, "height": 576,
      "layer": [
       {"data": {"name": "bars"}, "transform": [{"filter": "datum.p=='C'"}], "mark": {"type": "bar", "stroke": "#000", "strokeWidth": 2.5},
        "encoding": {"x": {"field": "c", "type": "nominal", "scale": {"domain": ["Scr sh","SMAD2 sh","SMAD3 sh"], "paddingInner": 0.35, "paddingOuter": 0.32}, "axis": {"title": null, "labelAngle": -45, "labelFontSize": 56, "labelFontStyle": "normal"}},
         "y": {"field": "m", "type": "quantitative", "scale": {"domain": [0, 1.5], "nice": false}, "axis": {"title": "Relative expression", "values": [0, 0.5, 1, 1.5], "format": ".1f", "titleFontSize": 57, "titlePadding": 22}},
         "fill": {"field": "c", "type": "nominal", "scale": {"domain": ["Scr sh","SMAD2 sh","SMAD3 sh"], "range": ["#ffffff","#0c1c8c","#8b1a0f"]}, "legend": null}}},
       {"data": {"name": "bars"}, "transform": [{"filter": "datum.p=='C' && datum.h != null"}], "mark": {"type": "rule", "color": "#000", "strokeWidth": 2.5},
        "encoding": {"x": {"field": "c", "type": "nominal", "axis": null}, "y": {"field": "h", "type": "quantitative", "axis": null}, "y2": {"field": "m"}}},
       {"data": {"name": "bars"}, "transform": [{"filter": "datum.p=='C' && datum.h != null"}], "mark": {"type": "tick", "color": "#000", "thickness": 2.5, "size": 33, "orient": "horizontal"},
        "encoding": {"x": {"field": "c", "type": "nominal", "axis": null}, "y": {"field": "h", "type": "quantitative", "axis": null}}},
       {"data": {"name": "brk"}, "transform": [{"filter": "datum.p=='C'"}], "mark": {"type": "line", "color": "#000", "strokeWidth": 2.5},
        "encoding": {"x": {"field": "c", "type": "nominal", "axis": {"orient": "top", "title": "SMAD3", "labels": false, "ticks": false, "domain": false, "titleFontStyle": "italic", "titleFontSize": 56, "titleY": -60, "titleBaseline": "alphabetic"}},
         "y": {"field": "y", "type": "quantitative", "axis": {"orient": "left", "title": "C", "labels": false, "ticks": false, "domain": false, "titleAngle": 0, "titleX": -189.5, "titleY": -48, "titleAlign": "left", "titleBaseline": "alphabetic", "titleFont": "Liberation Sans", "titleFontSize": 80}},
         "detail": {"field": "b", "type": "nominal"}, "order": {"field": "k", "type": "quantitative"}}},
       {"data": {"name": "stars"}, "transform": [{"filter": "datum.p=='C' && !datum.half"}], "mark": {"type": "text", "font": "Liberation Serif", "fontSize": 76, "baseline": "alphabetic", "dy": 39, "color": "#000"},
        "encoding": {"x": {"field": "c", "type": "nominal", "axis": null}, "y": {"field": "y", "type": "quantitative", "axis": null}, "text": {"field": "t"}}}
      ],
      "resolve": {"axis": {"x": "independent", "y": "independent"}}},
     {"width": 322, "height": 576,
      "layer": [
       {"data": {"name": "bars"}, "transform": [{"filter": "datum.p=='D'"}], "mark": {"type": "bar", "stroke": "#000", "strokeWidth": 2.5},
        "encoding": {"x": {"field": "c", "type": "nominal", "scale": {"domain": ["Scr sh","SMAD2 sh","SMAD3 sh"], "paddingInner": 0.35, "paddingOuter": 0.32}, "axis": {"title": null, "labelAngle": -45, "labelFontSize": 56, "labelFontStyle": "italic"}},
         "y": {"field": "m", "type": "quantitative", "scale": {"domain": [0, 5], "nice": false}, "axis": {"title": "Relative expression", "values": [0, 1, 2, 3, 4, 5], "format": "d", "titleFontSize": 57, "titlePadding": 30}},
         "fill": {"field": "c", "type": "nominal", "scale": {"domain": ["Scr sh","SMAD2 sh","SMAD3 sh"], "range": ["#ffffff","#0c1c8c","#8b1a0f"]}, "legend": null}}},
       {"data": {"name": "bars"}, "transform": [{"filter": "datum.p=='D' && datum.h != null"}], "mark": {"type": "rule", "color": "#000", "strokeWidth": 2.5},
        "encoding": {"x": {"field": "c", "type": "nominal", "axis": null}, "y": {"field": "h", "type": "quantitative", "axis": null}, "y2": {"field": "m"}}},
       {"data": {"name": "bars"}, "transform": [{"filter": "datum.p=='D' && datum.h != null"}], "mark": {"type": "tick", "color": "#000", "thickness": 2.5, "size": 33, "orient": "horizontal"},
        "encoding": {"x": {"field": "c", "type": "nominal", "axis": null}, "y": {"field": "h", "type": "quantitative", "axis": null}}},
       {"data": {"name": "brk"}, "transform": [{"filter": "datum.p=='D'"}], "mark": {"type": "line", "color": "#000", "strokeWidth": 2.5},
        "encoding": {"x": {"field": "c", "type": "nominal", "axis": {"orient": "top", "title": "RHOB", "labels": false, "ticks": false, "domain": false, "titleFontStyle": "italic", "titleFontSize": 56, "titleY": -60, "titleBaseline": "alphabetic"}},
         "y": {"field": "y", "type": "quantitative", "axis": {"orient": "left", "title": "D", "labels": false, "ticks": false, "domain": false, "titleAngle": 0, "titleX": -185.5, "titleY": -48, "titleAlign": "left", "titleBaseline": "alphabetic", "titleFont": "Liberation Sans", "titleFontSize": 80}},
         "detail": {"field": "b", "type": "nominal"}, "order": {"field": "k", "type": "quantitative"}}},
       {"data": {"name": "stars"}, "transform": [{"filter": "datum.p=='D' && !datum.half"}], "mark": {"type": "text", "font": "Liberation Serif", "fontSize": 72, "baseline": "alphabetic", "dy": 37, "color": "#000"},
        "encoding": {"x": {"field": "c", "type": "nominal", "axis": null}, "y": {"field": "y", "type": "quantitative", "axis": null}, "text": {"field": "t"}}}
      ],
      "resolve": {"axis": {"x": "independent", "y": "independent"}}},
     {"width": 322, "height": 576,
      "layer": [
       {"data": {"name": "bars"}, "transform": [{"filter": "datum.p=='E'"}], "mark": {"type": "bar", "stroke": "#000", "strokeWidth": 2.5},
        "encoding": {"x": {"field": "c", "type": "nominal", "scale": {"domain": ["Scr sh","SMAD2 sh","SMAD3 sh"], "paddingInner": 0.35, "paddingOuter": 0.32}, "axis": {"title": null, "labelAngle": -45, "labelFontSize": 56, "labelFontStyle": "italic"}},
         "y": {"field": "m", "type": "quantitative", "scale": {"domain": [0, 1.5], "nice": false}, "axis": {"title": "Relative expression", "values": [0, 0.5, 1, 1.5], "format": ".1f", "titleFontSize": 57, "titlePadding": 20}},
         "fill": {"field": "c", "type": "nominal", "scale": {"domain": ["Scr sh","SMAD2 sh","SMAD3 sh"], "range": ["#ffffff","#0c1c8c","#8b1a0f"]}, "legend": null}}},
       {"data": {"name": "bars"}, "transform": [{"filter": "datum.p=='E' && datum.h != null"}], "mark": {"type": "rule", "color": "#000", "strokeWidth": 2.5},
        "encoding": {"x": {"field": "c", "type": "nominal", "axis": null}, "y": {"field": "h", "type": "quantitative", "axis": null}, "y2": {"field": "m"}}},
       {"data": {"name": "bars"}, "transform": [{"filter": "datum.p=='E' && datum.h != null"}], "mark": {"type": "tick", "color": "#000", "thickness": 2.5, "size": 33, "orient": "horizontal"},
        "encoding": {"x": {"field": "c", "type": "nominal", "axis": null}, "y": {"field": "h", "type": "quantitative", "axis": null}}},
       {"data": {"name": "brk"}, "transform": [{"filter": "datum.p=='E'"}], "mark": {"type": "line", "color": "#000", "strokeWidth": 2.5},
        "encoding": {"x": {"field": "c", "type": "nominal", "axis": {"orient": "top", "title": "ITGB2", "labels": false, "ticks": false, "domain": false, "titleFontStyle": "italic", "titleFontSize": 56, "titleY": -60, "titleBaseline": "alphabetic"}},
         "y": {"field": "y", "type": "quantitative", "axis": {"orient": "left", "title": "E", "labels": false, "ticks": false, "domain": false, "titleAngle": 0, "titleX": -183.5, "titleY": -48, "titleAlign": "left", "titleBaseline": "alphabetic", "titleFont": "Liberation Sans", "titleFontSize": 80}},
         "detail": {"field": "b", "type": "nominal"}, "order": {"field": "k", "type": "quantitative"}}},
       {"data": {"name": "stars"}, "transform": [{"filter": "datum.p=='E' && !datum.half"}], "mark": {"type": "text", "font": "Liberation Serif", "fontSize": 76, "baseline": "alphabetic", "dy": 39, "color": "#000"},
        "encoding": {"x": {"field": "c", "type": "nominal", "axis": null}, "y": {"field": "y", "type": "quantitative", "axis": null}, "text": {"field": "t"}}}
      ],
      "resolve": {"axis": {"x": "independent", "y": "independent"}}},
     {"width": 322, "height": 576,
      "layer": [
       {"data": {"name": "bars"}, "transform": [{"filter": "datum.p=='F'"}], "mark": {"type": "bar", "stroke": "#000", "strokeWidth": 2.5},
        "encoding": {"x": {"field": "c", "type": "nominal", "scale": {"domain": ["Scr sh","SMAD2 sh","SMAD3 sh"], "paddingInner": 0.35, "paddingOuter": 0.32}, "axis": {"title": null, "labelAngle": -45, "labelFontSize": 56, "labelFontStyle": "italic"}},
         "y": {"field": "m", "type": "quantitative", "scale": {"domain": [0, 1.5], "nice": false}, "axis": {"title": "Relative expression", "values": [0, 0.5, 1, 1.5], "format": ".1f", "titleFontSize": 57, "titlePadding": 22}},
         "fill": {"field": "c", "type": "nominal", "scale": {"domain": ["Scr sh","SMAD2 sh","SMAD3 sh"], "range": ["#ffffff","#0c1c8c","#8b1a0f"]}, "legend": null}}},
       {"data": {"name": "bars"}, "transform": [{"filter": "datum.p=='F' && datum.h != null"}], "mark": {"type": "rule", "color": "#000", "strokeWidth": 2.5},
        "encoding": {"x": {"field": "c", "type": "nominal", "axis": null}, "y": {"field": "h", "type": "quantitative", "axis": null}, "y2": {"field": "m"}}},
       {"data": {"name": "bars"}, "transform": [{"filter": "datum.p=='F' && datum.h != null"}], "mark": {"type": "tick", "color": "#000", "thickness": 2.5, "size": 33, "orient": "horizontal"},
        "encoding": {"x": {"field": "c", "type": "nominal", "axis": null}, "y": {"field": "h", "type": "quantitative", "axis": null}}},
       {"data": {"name": "brk"}, "transform": [{"filter": "datum.p=='F'"}], "mark": {"type": "line", "color": "#000", "strokeWidth": 2.5},
        "encoding": {"x": {"field": "c", "type": "nominal", "axis": {"orient": "top", "title": "VIM", "labels": false, "ticks": false, "domain": false, "titleFontStyle": "italic", "titleFontSize": 56, "titleY": -60, "titleBaseline": "alphabetic"}},
         "y": {"field": "y", "type": "quantitative", "axis": {"orient": "left", "title": "F", "labels": false, "ticks": false, "domain": false, "titleAngle": 0, "titleX": -206.5, "titleY": -48, "titleAlign": "left", "titleBaseline": "alphabetic", "titleFont": "Liberation Sans", "titleFontSize": 80}},
         "detail": {"field": "b", "type": "nominal"}, "order": {"field": "k", "type": "quantitative"}}},
       {"data": {"name": "stars"}, "transform": [{"filter": "datum.p=='F' && !datum.half"}], "mark": {"type": "text", "font": "Liberation Serif", "fontSize": 76, "baseline": "alphabetic", "dy": 39, "color": "#000"},
        "encoding": {"x": {"field": "c", "type": "nominal", "axis": null}, "y": {"field": "y", "type": "quantitative", "axis": null}, "text": {"field": "t"}}}
      ],
      "resolve": {"axis": {"x": "independent", "y": "independent"}}}
   ], "spacing": 199, "bounds": "flush", "resolve": {"scale": {"fill": "independent"}}},
   {"hconcat": [
     {"width": 1, "height": 1, "data": {"values": []}, "mark": {"type": "point", "opacity": 0}, "encoding": {}},
     {"hconcat": [
       {"vconcat": [
         {"width": 337, "height": 711,
          "layer": [
           {"data": {"name": "bars"}, "transform": [{"filter": "datum.p=='G'"}], "mark": {"type": "bar", "stroke": "#000", "strokeWidth": 2.5},
            "encoding": {"x": {"field": "c", "type": "nominal", "scale": {"domain": ["Scr sh","sh #1","sh #2"], "paddingInner": 0.38, "paddingOuter": 0.35}, "axis": {"title": null, "labelAngle": -45, "labelFontSize": 54, "labelFontStyle": "italic"}},
             "y": {"field": "m", "type": "quantitative", "scale": {"domain": [0, 1.5], "nice": false}, "axis": {"title": "Relative expression", "values": [0, 0.5, 1, 1.5], "format": ".1f", "titleFontSize": 54, "titleFontWeight": "bold", "titlePadding": 11}},
             "fill": {"field": "c", "type": "nominal", "scale": {"domain": ["Scr sh","sh #1","sh #2"], "range": ["#ffffff","#fde7bf","#fdd27a"]}, "legend": null}}},
           {"data": {"name": "bars"}, "transform": [{"filter": "datum.p=='G' && datum.h != null"}], "mark": {"type": "rule", "color": "#000", "strokeWidth": 2.5},
            "encoding": {"x": {"field": "c", "type": "nominal", "axis": null}, "y": {"field": "h", "type": "quantitative", "axis": null}, "y2": {"field": "m"}}},
           {"data": {"name": "bars"}, "transform": [{"filter": "datum.p=='G' && datum.h != null"}], "mark": {"type": "tick", "color": "#000", "thickness": 2.5, "size": 34, "orient": "horizontal"},
            "encoding": {"x": {"field": "c", "type": "nominal", "axis": null}, "y": {"field": "h", "type": "quantitative", "axis": null}}},
           {"data": {"name": "brk"}, "transform": [{"filter": "datum.p=='G'"}], "mark": {"type": "line", "color": "#000", "strokeWidth": 2.5},
            "encoding": {"x": {"field": "c", "type": "nominal", "axis": {"orient": "top", "title": "RHOB", "labels": false, "ticks": false, "domain": false, "titleFontStyle": "italic", "titleFontSize": 50, "titleY": -48, "titleBaseline": "alphabetic"}},
             "y": {"field": "y", "type": "quantitative", "axis": {"orient": "left", "title": "G", "labels": false, "ticks": false, "domain": false, "titleAngle": 0, "titleX": -230, "titleY": -8, "titleAlign": "left", "titleBaseline": "alphabetic", "titleFont": "Liberation Sans", "titleFontSize": 80}},
             "detail": {"field": "b", "type": "nominal"}, "order": {"field": "k", "type": "quantitative"}}},
           {"data": {"name": "stars"}, "transform": [{"filter": "datum.p=='G' && !datum.half"}], "mark": {"type": "text", "font": "Liberation Sans", "fontWeight": "bold", "fontSize": 64, "baseline": "alphabetic", "dy": 38, "color": "#000"},
            "encoding": {"x": {"field": "c", "type": "nominal", "axis": null}, "y": {"field": "y", "type": "quantitative", "axis": null}, "text": {"field": "t"}}},
           {"data": {"name": "stars"}, "transform": [{"filter": "datum.p=='G' && datum.half"}], "mark": {"type": "text", "font": "Liberation Sans", "fontWeight": "bold", "fontSize": 64, "baseline": "alphabetic", "dy": 38, "dx": 51, "color": "#000"},
            "encoding": {"x": {"field": "c", "type": "nominal", "axis": null}, "y": {"field": "y", "type": "quantitative", "axis": null}, "text": {"field": "t"}}}
          ],
          "resolve": {"axis": {"x": "independent", "y": "independent"}}},
         {"width": 337, "height": 711,
          "layer": [
           {"data": {"name": "bars"}, "transform": [{"filter": "datum.p=='H'"}], "mark": {"type": "bar", "stroke": "#000", "strokeWidth": 2.5},
            "encoding": {"x": {"field": "c", "type": "nominal", "scale": {"domain": ["Scr sh","sh #1","sh #2"], "paddingInner": 0.38, "paddingOuter": 0.35}, "axis": {"title": null, "labelAngle": -45, "labelFontSize": 54, "labelFontStyle": "italic"}},
             "y": {"field": "m", "type": "quantitative", "scale": {"domain": [0, 1.5], "nice": false}, "axis": {"title": "Relative expression", "values": [0, 0.5, 1, 1.5], "format": ".1f", "titleFontSize": 54, "titleFontWeight": "bold", "titlePadding": 11}},
             "fill": {"field": "c", "type": "nominal", "scale": {"domain": ["Scr sh","sh #1","sh #2"], "range": ["#ffffff","#82cba3","#1b9150"]}, "legend": null}}},
           {"data": {"name": "bars"}, "transform": [{"filter": "datum.p=='H' && datum.h != null"}], "mark": {"type": "rule", "color": "#000", "strokeWidth": 2.5},
            "encoding": {"x": {"field": "c", "type": "nominal", "axis": null}, "y": {"field": "h", "type": "quantitative", "axis": null}, "y2": {"field": "m"}}},
           {"data": {"name": "bars"}, "transform": [{"filter": "datum.p=='H' && datum.h != null"}], "mark": {"type": "tick", "color": "#000", "thickness": 2.5, "size": 34, "orient": "horizontal"},
            "encoding": {"x": {"field": "c", "type": "nominal", "axis": null}, "y": {"field": "h", "type": "quantitative", "axis": null}}},
           {"data": {"name": "brk"}, "transform": [{"filter": "datum.p=='H'"}], "mark": {"type": "line", "color": "#000", "strokeWidth": 2.5},
            "encoding": {"x": {"field": "c", "type": "nominal", "axis": {"orient": "top", "title": "ITGB2", "labels": false, "ticks": false, "domain": false, "titleFontStyle": "italic", "titleFontSize": 50, "titleY": -48, "titleBaseline": "alphabetic"}},
             "y": {"field": "y", "type": "quantitative", "axis": {"orient": "left", "title": "H", "labels": false, "ticks": false, "domain": false, "titleAngle": 0, "titleX": -230, "titleY": -8, "titleAlign": "left", "titleBaseline": "alphabetic", "titleFont": "Liberation Sans", "titleFontSize": 80}},
             "detail": {"field": "b", "type": "nominal"}, "order": {"field": "k", "type": "quantitative"}}},
           {"data": {"name": "stars"}, "transform": [{"filter": "datum.p=='H' && !datum.half"}], "mark": {"type": "text", "font": "Liberation Sans", "fontWeight": "bold", "fontSize": 64, "baseline": "alphabetic", "dy": 38, "color": "#000"},
            "encoding": {"x": {"field": "c", "type": "nominal", "axis": null}, "y": {"field": "y", "type": "quantitative", "axis": null}, "text": {"field": "t"}}},
           {"data": {"name": "stars"}, "transform": [{"filter": "datum.p=='H' && datum.half"}], "mark": {"type": "text", "font": "Liberation Sans", "fontWeight": "bold", "fontSize": 64, "baseline": "alphabetic", "dy": 38, "dx": 51, "color": "#000"},
            "encoding": {"x": {"field": "c", "type": "nominal", "axis": null}, "y": {"field": "y", "type": "quantitative", "axis": null}, "text": {"field": "t"}}}
          ],
          "resolve": {"axis": {"x": "independent", "y": "independent"}}},
         {"width": 337, "height": 711,
          "layer": [
           {"data": {"name": "bars"}, "transform": [{"filter": "datum.p=='I'"}], "mark": {"type": "bar", "stroke": "#000", "strokeWidth": 2.5},
            "encoding": {"x": {"field": "c", "type": "nominal", "scale": {"domain": ["Scr sh","sh #1","sh #2"], "paddingInner": 0.38, "paddingOuter": 0.35}, "axis": {"title": null, "labelAngle": -45, "labelFontSize": 54, "labelFontStyle": "italic"}},
             "y": {"field": "m", "type": "quantitative", "scale": {"domain": [0, 1.5], "nice": false}, "axis": {"title": "Relative expression", "values": [0, 0.5, 1, 1.5], "format": ".1f", "titleFontSize": 54, "titleFontWeight": "bold", "titlePadding": 11}},
             "fill": {"field": "c", "type": "nominal", "scale": {"domain": ["Scr sh","sh #1","sh #2"], "range": ["#ffffff","#fdca8c","#f7941e"]}, "legend": null}}},
           {"data": {"name": "bars"}, "transform": [{"filter": "datum.p=='I' && datum.h != null"}], "mark": {"type": "rule", "color": "#000", "strokeWidth": 2.5},
            "encoding": {"x": {"field": "c", "type": "nominal", "axis": null}, "y": {"field": "h", "type": "quantitative", "axis": null}, "y2": {"field": "m"}}},
           {"data": {"name": "bars"}, "transform": [{"filter": "datum.p=='I' && datum.h != null"}], "mark": {"type": "tick", "color": "#000", "thickness": 2.5, "size": 34, "orient": "horizontal"},
            "encoding": {"x": {"field": "c", "type": "nominal", "axis": null}, "y": {"field": "h", "type": "quantitative", "axis": null}}},
           {"data": {"name": "brk"}, "transform": [{"filter": "datum.p=='I'"}], "mark": {"type": "line", "color": "#000", "strokeWidth": 2.5},
            "encoding": {"x": {"field": "c", "type": "nominal", "axis": {"orient": "top", "title": "VIM", "labels": false, "ticks": false, "domain": false, "titleFontStyle": "italic", "titleFontSize": 50, "titleY": -55, "titleBaseline": "alphabetic"}},
             "y": {"field": "y", "type": "quantitative", "axis": {"orient": "left", "title": "I", "labels": false, "ticks": false, "domain": false, "titleAngle": 0, "titleX": -230, "titleY": -8, "titleAlign": "left", "titleBaseline": "alphabetic", "titleFont": "Liberation Sans", "titleFontSize": 80}},
             "detail": {"field": "b", "type": "nominal"}, "order": {"field": "k", "type": "quantitative"}}},
           {"data": {"name": "stars"}, "transform": [{"filter": "datum.p=='I' && !datum.half"}], "mark": {"type": "text", "font": "Liberation Sans", "fontWeight": "bold", "fontSize": 64, "baseline": "alphabetic", "dy": 38, "color": "#000"},
            "encoding": {"x": {"field": "c", "type": "nominal", "axis": null}, "y": {"field": "y", "type": "quantitative", "axis": null}, "text": {"field": "t"}}},
           {"data": {"name": "stars"}, "transform": [{"filter": "datum.p=='I' && datum.half"}], "mark": {"type": "text", "font": "Liberation Sans", "fontWeight": "bold", "fontSize": 64, "baseline": "alphabetic", "dy": 38, "dx": 51, "color": "#000"},
            "encoding": {"x": {"field": "c", "type": "nominal", "axis": null}, "y": {"field": "y", "type": "quantitative", "axis": null}, "text": {"field": "t"}}}
          ],
          "resolve": {"axis": {"x": "independent", "y": "independent"}}}
       ], "spacing": 304, "bounds": "flush", "resolve": {"scale": {"fill": "independent"}}},
       {"vconcat": [
         {"width": 785, "height": 715,
          "layer": [
           {"data": {"name": "bars"}, "transform": [{"filter": "datum.p=='J'"}], "mark": {"type": "bar", "stroke": "#000", "strokeWidth": 2.5},
            "encoding": {"x": {"field": "g", "type": "nominal", "scale": {"domain": ["21% O₂","1% O₂","TGF-β1"], "paddingInner": 0.293, "paddingOuter": 0.112}, "axis": {"title": null, "labelAngle": -45, "labelFontSize": 56, "labelFontStyle": "italic"}},
             "xOffset": {"field": "c", "type": "nominal", "scale": {"domain": ["Scr sh","RHOB sh #1","RHOB sh #2"], "paddingInner": 0.386, "paddingOuter": 0}},
             "y": {"field": "m", "type": "quantitative", "scale": {"domain": [0, 40], "nice": false}, "axis": {"title": "% of invadopodia-forming cells", "values": [0, 10, 20, 30, 40], "labelFontSize": 54, "titleFontSize": 55, "titleFontWeight": "bold", "titlePadding": 36}},
             "fill": {"field": "c", "type": "nominal", "scale": {"domain": ["Scr sh","RHOB sh #1","RHOB sh #2"], "range": ["#ffffff","#fde7bf","#fdd27a"]},
              "legend": {"orient": "none", "legendX": 822, "legendY": 22, "title": null, "symbolType": "square", "symbolSize": 2025, "symbolStrokeColor": "#000", "symbolStrokeWidth": 2.5, "labelFont": "Liberation Serif", "labelFontSize": 52, "labelFontStyle": "normal", "labelColor": "#000", "labelOffset": 24, "rowPadding": 16, "padding": 0}}}},
           {"data": {"name": "bars"}, "transform": [{"filter": "datum.p=='J' && datum.h != null"}], "mark": {"type": "rule", "color": "#000", "strokeWidth": 2.5},
            "encoding": {"x": {"field": "g", "type": "nominal", "axis": null}, "xOffset": {"field": "c", "type": "nominal"}, "y": {"field": "h", "type": "quantitative", "axis": null}, "y2": {"field": "m"}}},
           {"data": {"name": "bars"}, "transform": [{"filter": "datum.p=='J' && datum.h != null"}], "mark": {"type": "tick", "color": "#000", "thickness": 2.5, "size": 29, "orient": "horizontal"},
            "encoding": {"x": {"field": "g", "type": "nominal", "axis": null}, "xOffset": {"field": "c", "type": "nominal"}, "y": {"field": "h", "type": "quantitative", "axis": null}}},
           {"data": {"name": "brk"}, "transform": [{"filter": "datum.p=='J'"}], "mark": {"type": "line", "color": "#000", "strokeWidth": 2.5},
            "encoding": {"x": {"field": "g", "type": "nominal", "axis": null}, "xOffset": {"field": "c", "type": "nominal"},
             "y": {"field": "y", "type": "quantitative", "axis": {"orient": "left", "title": "J", "labels": false, "ticks": false, "domain": false, "titleAngle": 0, "titleX": -251, "titleY": -30, "titleAlign": "left", "titleBaseline": "alphabetic", "titleFont": "Liberation Sans", "titleFontSize": 80}},
             "detail": {"field": "b", "type": "nominal"}, "order": {"field": "k", "type": "quantitative"}}},
           {"data": {"name": "stars"}, "transform": [{"filter": "datum.p=='J' && !datum.half"}], "mark": {"type": "text", "font": "Liberation Sans", "fontWeight": "bold", "fontSize": 64, "baseline": "alphabetic", "dy": 38, "color": "#000"},
            "encoding": {"x": {"field": "g", "type": "nominal", "axis": null}, "xOffset": {"field": "c", "type": "nominal"}, "y": {"field": "y", "type": "quantitative", "axis": null}, "text": {"field": "t"}}},
           {"data": {"name": "stars"}, "transform": [{"filter": "datum.p=='J' && datum.half"}], "mark": {"type": "text", "font": "Liberation Sans", "fontWeight": "bold", "fontSize": 64, "baseline": "alphabetic", "dy": 38, "dx": 36, "color": "#000"},
            "encoding": {"x": {"field": "g", "type": "nominal", "axis": null}, "xOffset": {"field": "c", "type": "nominal"}, "y": {"field": "y", "type": "quantitative", "axis": null}, "text": {"field": "t"}}}
          ],
          "resolve": {"axis": {"x": "independent", "y": "independent"}}},
         {"width": 785, "height": 715,
          "layer": [
           {"data": {"name": "bars"}, "transform": [{"filter": "datum.p=='K'"}], "mark": {"type": "bar", "stroke": "#000", "strokeWidth": 2.5},
            "encoding": {"x": {"field": "g", "type": "nominal", "scale": {"domain": ["21% O₂","1% O₂","TGF-β1"], "paddingInner": 0.293, "paddingOuter": 0.112}, "axis": {"title": null, "labelAngle": -45, "labelFontSize": 56, "labelFontStyle": "italic"}},
             "xOffset": {"field": "c", "type": "nominal", "scale": {"domain": ["Scr sh","ITGB2 sh #1","ITGB2 sh #2"], "paddingInner": 0.386, "paddingOuter": 0}},
             "y": {"field": "m", "type": "quantitative", "scale": {"domain": [0, 40], "nice": false}, "axis": {"title": "% of invadopodia-forming cells", "values": [0, 10, 20, 30, 40], "labelFontSize": 54, "titleFontSize": 55, "titleFontWeight": "bold", "titlePadding": 36}},
             "fill": {"field": "c", "type": "nominal", "scale": {"domain": ["Scr sh","ITGB2 sh #1","ITGB2 sh #2"], "range": ["#ffffff","#82cba3","#1b9150"]},
              "legend": {"orient": "none", "legendX": 822, "legendY": 20, "title": null, "symbolType": "square", "symbolSize": 2025, "symbolStrokeColor": "#000", "symbolStrokeWidth": 2.5, "labelFont": "Liberation Serif", "labelFontSize": 52, "labelFontStyle": "italic", "labelColor": "#000", "labelOffset": 24, "rowPadding": 16, "padding": 0}}}},
           {"data": {"name": "bars"}, "transform": [{"filter": "datum.p=='K' && datum.h != null"}], "mark": {"type": "rule", "color": "#000", "strokeWidth": 2.5},
            "encoding": {"x": {"field": "g", "type": "nominal", "axis": null}, "xOffset": {"field": "c", "type": "nominal"}, "y": {"field": "h", "type": "quantitative", "axis": null}, "y2": {"field": "m"}}},
           {"data": {"name": "bars"}, "transform": [{"filter": "datum.p=='K' && datum.h != null"}], "mark": {"type": "tick", "color": "#000", "thickness": 2.5, "size": 29, "orient": "horizontal"},
            "encoding": {"x": {"field": "g", "type": "nominal", "axis": null}, "xOffset": {"field": "c", "type": "nominal"}, "y": {"field": "h", "type": "quantitative", "axis": null}}},
           {"data": {"name": "brk"}, "transform": [{"filter": "datum.p=='K'"}], "mark": {"type": "line", "color": "#000", "strokeWidth": 2.5},
            "encoding": {"x": {"field": "g", "type": "nominal", "axis": null}, "xOffset": {"field": "c", "type": "nominal"},
             "y": {"field": "y", "type": "quantitative", "axis": {"orient": "left", "title": "K", "labels": false, "ticks": false, "domain": false, "titleAngle": 0, "titleX": -251, "titleY": -30, "titleAlign": "left", "titleBaseline": "alphabetic", "titleFont": "Liberation Sans", "titleFontSize": 80}},
             "detail": {"field": "b", "type": "nominal"}, "order": {"field": "k", "type": "quantitative"}}},
           {"data": {"name": "stars"}, "transform": [{"filter": "datum.p=='K' && !datum.half"}], "mark": {"type": "text", "font": "Liberation Sans", "fontWeight": "bold", "fontSize": 64, "baseline": "alphabetic", "dy": 38, "color": "#000"},
            "encoding": {"x": {"field": "g", "type": "nominal", "axis": null}, "xOffset": {"field": "c", "type": "nominal"}, "y": {"field": "y", "type": "quantitative", "axis": null}, "text": {"field": "t"}}},
           {"data": {"name": "stars"}, "transform": [{"filter": "datum.p=='K' && datum.half"}], "mark": {"type": "text", "font": "Liberation Sans", "fontWeight": "bold", "fontSize": 64, "baseline": "alphabetic", "dy": 38, "dx": 36, "color": "#000"},
            "encoding": {"x": {"field": "g", "type": "nominal", "axis": null}, "xOffset": {"field": "c", "type": "nominal"}, "y": {"field": "y", "type": "quantitative", "axis": null}, "text": {"field": "t"}}}
          ],
          "resolve": {"axis": {"x": "independent", "y": "independent"}}},
         {"width": 785, "height": 715,
          "layer": [
           {"data": {"name": "bars"}, "transform": [{"filter": "datum.p=='L'"}], "mark": {"type": "bar", "stroke": "#000", "strokeWidth": 2.5},
            "encoding": {"x": {"field": "g", "type": "nominal", "scale": {"domain": ["21% O₂","1% O₂","TGF-β1"], "paddingInner": 0.293, "paddingOuter": 0.112}, "axis": {"title": null, "labelAngle": -45, "labelFontSize": 56, "labelFontStyle": "italic"}},
             "xOffset": {"field": "c", "type": "nominal", "scale": {"domain": ["Scr sh","VIM sh #1","VIM sh #2"], "paddingInner": 0.386, "paddingOuter": 0}},
             "y": {"field": "m", "type": "quantitative", "scale": {"domain": [0, 40], "nice": false}, "axis": {"title": "% of invadopodia-forming cells", "values": [0, 10, 20, 30, 40], "labelFontSize": 54, "titleFontSize": 55, "titleFontWeight": "bold", "titlePadding": 36}},
             "fill": {"field": "c", "type": "nominal", "scale": {"domain": ["Scr sh","VIM sh #1","VIM sh #2"], "range": ["#ffffff","#fdca8c","#f7941e"]},
              "legend": {"orient": "none", "legendX": 822, "legendY": 20, "title": null, "symbolType": "square", "symbolSize": 2025, "symbolStrokeColor": "#000", "symbolStrokeWidth": 2.5, "labelFont": "Liberation Serif", "labelFontSize": 52, "labelFontStyle": "italic", "labelColor": "#000", "labelOffset": 24, "rowPadding": 16, "padding": 0}}}},
           {"data": {"name": "bars"}, "transform": [{"filter": "datum.p=='L' && datum.h != null"}], "mark": {"type": "rule", "color": "#000", "strokeWidth": 2.5},
            "encoding": {"x": {"field": "g", "type": "nominal", "axis": null}, "xOffset": {"field": "c", "type": "nominal"}, "y": {"field": "h", "type": "quantitative", "axis": null}, "y2": {"field": "m"}}},
           {"data": {"name": "bars"}, "transform": [{"filter": "datum.p=='L' && datum.h != null"}], "mark": {"type": "tick", "color": "#000", "thickness": 2.5, "size": 29, "orient": "horizontal"},
            "encoding": {"x": {"field": "g", "type": "nominal", "axis": null}, "xOffset": {"field": "c", "type": "nominal"}, "y": {"field": "h", "type": "quantitative", "axis": null}}},
           {"data": {"name": "brk"}, "transform": [{"filter": "datum.p=='L'"}], "mark": {"type": "line", "color": "#000", "strokeWidth": 2.5},
            "encoding": {"x": {"field": "g", "type": "nominal", "axis": null}, "xOffset": {"field": "c", "type": "nominal"},
             "y": {"field": "y", "type": "quantitative", "axis": {"orient": "left", "title": "L", "labels": false, "ticks": false, "domain": false, "titleAngle": 0, "titleX": -251, "titleY": -20, "titleAlign": "left", "titleBaseline": "alphabetic", "titleFont": "Liberation Sans", "titleFontSize": 80}},
             "detail": {"field": "b", "type": "nominal"}, "order": {"field": "k", "type": "quantitative"}}},
           {"data": {"name": "stars"}, "transform": [{"filter": "datum.p=='L' && !datum.half"}], "mark": {"type": "text", "font": "Liberation Sans", "fontWeight": "bold", "fontSize": 64, "baseline": "alphabetic", "dy": 38, "color": "#000"},
            "encoding": {"x": {"field": "g", "type": "nominal", "axis": null}, "xOffset": {"field": "c", "type": "nominal"}, "y": {"field": "y", "type": "quantitative", "axis": null}, "text": {"field": "t"}}},
           {"data": {"name": "stars"}, "transform": [{"filter": "datum.p=='L' && datum.half"}], "mark": {"type": "text", "font": "Liberation Sans", "fontWeight": "bold", "fontSize": 64, "baseline": "alphabetic", "dy": 38, "dx": 36, "color": "#000"},
            "encoding": {"x": {"field": "g", "type": "nominal", "axis": null}, "xOffset": {"field": "c", "type": "nominal"}, "y": {"field": "y", "type": "quantitative", "axis": null}, "text": {"field": "t"}}}
          ],
          "resolve": {"axis": {"x": "independent", "y": "independent"}}}
       ], "spacing": 297, "bounds": "flush", "resolve": {"scale": {"fill": "independent", "xOffset": "independent"}}}
     ], "spacing": 189, "bounds": "full", "resolve": {"scale": {"fill": "independent", "xOffset": "independent"}}}
   ], "spacing": 64.5, "bounds": "full", "resolve": {"scale": {"fill": "independent", "xOffset": "independent"}}}
 ], "spacing": 22, "bounds": "full", "resolve": {"scale": {"fill": "independent", "xOffset": "independent"}}}
],
"spacing": -156,
"bounds": "full",
"resolve": {"scale": {"fill": "independent", "xOffset": "independent"}}
}
